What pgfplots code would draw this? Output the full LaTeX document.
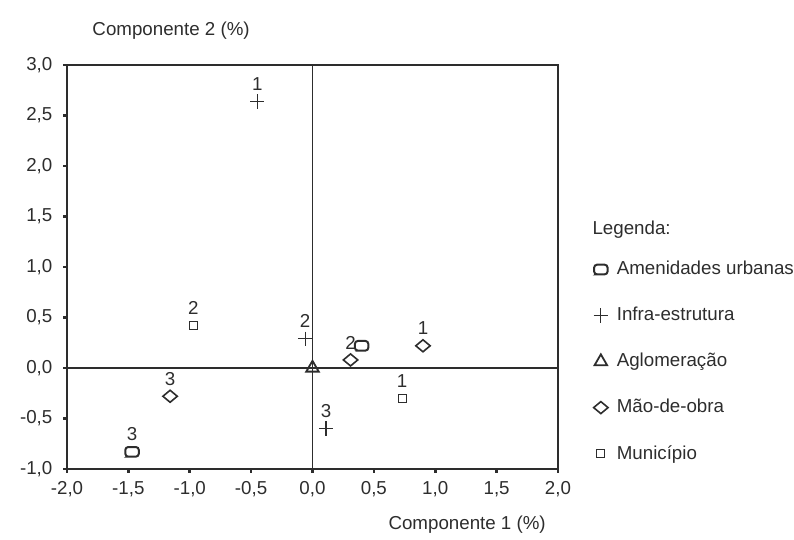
\documentclass[border=0pt]{standalone}
\usepackage{pgfplots}
\pgfplotsset{compat=1.18}
\usepackage{fontspec}
\setmainfont{Liberation Sans}
\definecolor{ink}{RGB}{45,45,45}
\newcommand{\fs}{\fontsize{9.4}{11}\selectfont}
\pgfdeclareplotmark{rsq}{%
  \pgfpathmoveto{\pgfpoint{-0.8\pgfplotmarksize}{-\pgfplotmarksize}}%
  \pgfpathlineto{\pgfpoint{0.8\pgfplotmarksize}{-\pgfplotmarksize}}%
  \pgfpatharc{-90}{0}{0.6\pgfplotmarksize}%
  \pgfpathlineto{\pgfpoint{1.4\pgfplotmarksize}{0.4\pgfplotmarksize}}%
  \pgfpatharc{0}{90}{0.6\pgfplotmarksize}%
  \pgfpathlineto{\pgfpoint{-0.8\pgfplotmarksize}{\pgfplotmarksize}}%
  \pgfpatharc{90}{180}{0.6\pgfplotmarksize}%
  \pgfpathlineto{\pgfpoint{-1.4\pgfplotmarksize}{-0.4\pgfplotmarksize}}%
  \pgfpatharc{180}{270}{0.6\pgfplotmarksize}%
  \pgfpathclose
  \pgfusepathqstroke}
\begin{document}
\begin{tikzpicture}[x=1bp,y=1bp]
\useasboundingbox (-33.5,-35.5) rectangle (363.5,234.5);
\begin{axis}[
  at={(0,0)}, anchor=south west, scale only axis,
  width=245.5bp, height=202bp,
  xmin=-2, xmax=2, ymin=-1, ymax=3,
  xtick={-2,-1.5,-1,-0.5,0,0.5,1,1.5,2},
  ytick={-1,-0.5,0,0.5,1,1.5,2,2.5,3},
  xtick pos=left, ytick pos=left,
  tick align=outside, major tick length=1.8bp,
  tick style={line width=1.3bp, ink},
  axis line style={ink, line width=0.8bp},
  ticklabel style={font=\fs, text=ink},
  /pgf/number format/.cd, use comma, fixed, fixed zerofill, precision=1, assume math mode=true,
  /pgfplots/.cd,
  xticklabel style={yshift=-1bp},
  yticklabel style={xshift=-2bp},
  clip=false,
  legend style={draw=none, fill=none, font=\fs, text=ink,
    at={(1.058,0.535)}, anchor=north west, row sep=10.75bp,
    /tikz/every even column/.append style={column sep=0bp},
    cells={anchor=west}},
  legend image code/.code={\path[draw=none,fill=none] (-4bp,-2bp) rectangle (6bp,2bp); \draw[only marks] plot coordinates {(0bp,0bp)};},
]
\draw[ink, line width=0.9bp] (axis cs:0,-1) -- (axis cs:0,3);
\draw[ink, line width=0.9bp] (axis cs:-2,0) -- (axis cs:2,0);
% Amenidades urbanas
\addplot[only marks, mark=rsq, mark size=2.4bp, ink, mark options={line width=1bp}]
  coordinates {(-1.47,-0.83) (0.40,0.22)};
\addlegendentry{Amenidades urbanas}
% Infra-estrutura
\addplot[only marks, mark=+, mark size=3.6bp, ink, mark options={line width=0.6bp}]
  coordinates {(-0.45,2.64) (-0.06,0.29) (0.11,-0.60)};
\addlegendentry{Infra-estrutura}
% Aglomeracao
\addplot[only marks, mark=triangle, mark size=3.6bp, ink, mark options={line width=0.9bp}]
  coordinates {(0,0)};
\addlegendentry{Aglomeração}
% Mao-de-obra
\addplot[only marks, mark=diamond, mark size=3bp, ink, mark options={xscale=1.6, line width=0.8bp}]
  coordinates {(0.90,0.22) (0.31,0.08) (-1.16,-0.28)};
\addlegendentry{Mão-de-obra}
% Municipio
\addplot[only marks, mark=square, mark size=2bp, ink, mark options={line width=0.6bp}]
  coordinates {(0.73,-0.30) (-0.97,0.42)};
\addlegendentry{Município}
% point labels
\begin{scope}[every node/.style={font=\fs, text=ink, inner sep=0pt, yshift=8.7bp}]
\node at (axis cs:-0.45,2.64) {1};
\node at (axis cs:-0.97,0.42) {2};
\node at (axis cs:-0.06,0.29) {2};
\node at (axis cs:0.31,0.08) {2};
\node at (axis cs:0.90,0.22) {1};
\node at (axis cs:0.73,-0.30) {1};
\node at (axis cs:0.11,-0.60) {3};
\node at (axis cs:-1.16,-0.28) {3};
\node at (axis cs:-1.47,-0.83) {3};
\end{scope}
\node[font=\fs, text=ink, anchor=center] at (rel axis cs:0.212,1.085) {Componente 2 (\%)};
\node[font=\fs, text=ink, anchor=center] at (rel axis cs:0.815,-0.137) {Componente 1 (\%)};
\node[font=\fs, text=ink, anchor=west] at (rel axis cs:1.056,0.593) {Legenda:};
\end{axis}
\end{tikzpicture}
\end{document}
